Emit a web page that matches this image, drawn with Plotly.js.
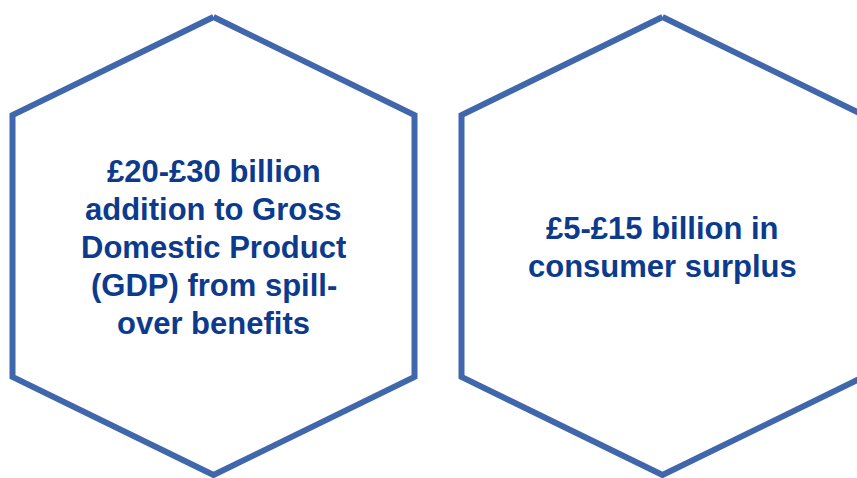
<!DOCTYPE html>
<html>
<head>
<meta charset="utf-8">
<script src="https://cdn.plot.ly/plotly-3.0.1.min.js"></script>
<style>html,body{margin:0;padding:0;background:#fff;}#chart{width:857px;height:478px;}</style>
</head>
<body>
<div id="chart"></div>
<script>
// Data
const labelLines = [
  ["£20-£30 billion", "addition to Gross", "Domestic Product", "(GDP) from spill-", "over benefits"],
  ["£5-£15 billion in", "consumer surplus"]
];
const lowValues = [20, 5];   // £ billion
const highValues = [30, 15]; // £ billion

// Layout geometry (pixel space)
const W = 857, H = 478;
const centersX = [213.5, 662.5];
const centerY = 246;
const halfW = 201, tipH = 229, sideH = 131;
const lineGap = 38;

const traces = labelLines.map((lines, i) => {
  const cx = centersX[i];
  const xs = [cx, cx + halfW, cx + halfW, cx, cx - halfW, cx - halfW, cx];
  const ys = [centerY - tipH, centerY - sideH, centerY + sideH, centerY + tipH, centerY + sideH, centerY - sideH, centerY - tipH];
  return {
    type: 'scatter', mode: 'lines', x: xs, y: ys,
    line: {color: '#4067ab', width: 6, shape: 'linear'},
    hoverinfo: 'skip', showlegend: false, cliponaxis: false
  };
});

const annotations = [];
labelLines.forEach((lines, i) => {
  const n = lines.length;
  lines.forEach((ln, k) => {
    annotations.push({
      x: centersX[i], y: centerY + (k - (n - 1) / 2) * lineGap + 1.5,
      xref: 'x', yref: 'y',
      text: '<b>' + ln + '</b>', showarrow: false,
      font: {family: 'Liberation Sans, Arial, sans-serif', size: 31, color: '#0c3a8d'},
      align: 'center', xanchor: 'center', yanchor: 'middle'
    });
  });
});

const layout = {
  width: W, height: H,
  margin: {l: 0, r: 0, t: 0, b: 0},
  paper_bgcolor: '#ffffff', plot_bgcolor: '#ffffff',
  xaxis: {range: [0, W], visible: false, fixedrange: true},
  yaxis: {range: [H, 0], visible: false, fixedrange: true},
  annotations: annotations,
  showlegend: false
};

Plotly.newPlot('chart', traces, layout, {staticPlot: true, displayModeBar: false});
</script>
</body>
</html>
